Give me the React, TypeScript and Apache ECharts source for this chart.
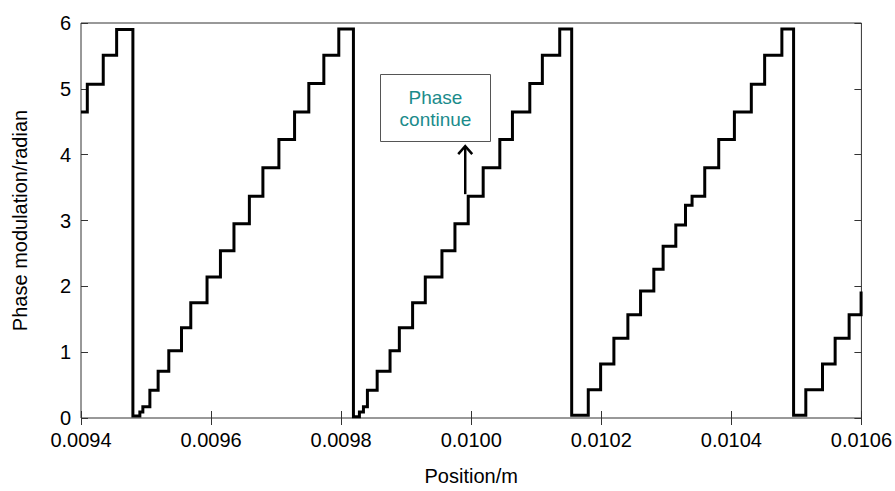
import React, { useEffect, useRef } from "react";
import * as echarts from "echarts";

// Step positions (m) and phase levels (radian)
const stepX = [
  0.0094, 0.0094097, 0.0094342, 0.0094548, 0.0094798, 0.0094905, 0.0094951, 0.0095059,
  0.0095186, 0.009535, 0.0095545, 0.0095688, 0.0095938, 0.0096144, 0.0096352, 0.0096589,
  0.0096797, 0.0097043, 0.0097284, 0.0097503, 0.0097734, 0.0097964, 0.0098189, 0.0098281,
  0.0098343, 0.0098404, 0.0098554, 0.0098752, 0.0098895, 0.0099099, 0.0099294, 0.009955,
  0.009975, 0.0099954, 0.0100184, 0.010044, 0.0100634, 0.0100901, 0.0101094, 0.0101361,
  0.0101545, 0.01018, 0.010199, 0.0102194, 0.0102409, 0.0102604, 0.0102808, 0.0102951,
  0.0103146, 0.0103295, 0.0103396, 0.0103591, 0.0103806, 0.0104047, 0.0104307, 0.0104512,
  0.0104777, 0.0104957, 0.0105145, 0.0105402, 0.0105596, 0.0105811, 0.0105995,
];
const stepY = [
  4.65, 5.07, 5.51, 5.9, 0.03, 0.09, 0.17, 0.42, 0.71, 1.02, 1.37, 1.75, 2.14, 2.54, 2.95, 3.37,
  3.8, 4.23, 4.65, 5.08, 5.51, 5.91, 0.02, 0.09, 0.17, 0.42, 0.71, 1.02, 1.37, 1.75, 2.14, 2.54,
  2.95, 3.37, 3.8, 4.23, 4.65, 5.08, 5.51, 5.91, 0.04, 0.43, 0.82, 1.21, 1.57, 1.93, 2.26, 2.61,
  2.93, 3.23, 3.37, 3.8, 4.23, 4.65, 5.07, 5.51, 5.91, 0.04, 0.43, 0.82, 1.21, 1.57, 1.92,
];
const xRange = [0.0094, 0.0106];
const yRange = [0, 6];
const xTickInterval = 0.0002;
const yTickInterval = 1;

// Annotation (data coordinates)
const annotationText = "Phase\ncontinue";
const annotationBox = { x0: 0.0098594, x1: 0.0100291, y0: 5.224, y1: 4.213 };
const arrow = { x: 0.0099908, yFrom: 3.4, yTo: 4.13 };

const FONT = "'Liberation Sans', Arial, sans-serif";

export default function App() {
  const ref = useRef<HTMLDivElement>(null);

  useEffect(() => {
    if (!ref.current) return;
    const chart = echarts.init(ref.current, undefined, { renderer: "svg" });
    const pts: number[][] = stepX.map((x, i) => [x, stepY[i]]);
    pts.push([xRange[1], stepY[stepY.length - 1]]);

    const tickStyle = { show: true, inside: true, length: 7, lineStyle: { color: "#333", width: 1 } };
    chart.setOption({
      animation: false,
      backgroundColor: "#fff",
      grid: {
        left: 81,
        right: 32,
        top: 23,
        bottom: 66,
        show: true,
        borderColor: "#333",
        borderWidth: 1,
        backgroundColor: "transparent",
      },
      xAxis: [
        {
          type: "value",
          min: xRange[0],
          max: xRange[1],
          interval: xTickInterval,
          name: "Position/m",
          nameLocation: "middle",
          nameGap: 48,
          nameTextStyle: { fontFamily: FONT, fontSize: 20, color: "#000" },
          axisLine: { show: false },
          axisTick: tickStyle,
          splitLine: { show: false },
          axisLabel: {
            fontFamily: FONT,
            fontSize: 20,
            color: "#000",
            margin: 12,
            formatter: (v: number) => v.toFixed(4),
          },
        },
        {
          type: "value",
          position: "top",
          min: xRange[0],
          max: xRange[1],
          interval: xTickInterval,
          axisLine: { show: false },
          axisTick: tickStyle,
          splitLine: { show: false },
          axisLabel: { show: false },
        },
      ],
      yAxis: [
        {
          type: "value",
          min: yRange[0],
          max: yRange[1],
          interval: yTickInterval,
          name: "Phase modulation/radian",
          nameLocation: "middle",
          nameGap: 51,
          nameTextStyle: { fontFamily: FONT, fontSize: 20, color: "#000" },
          axisLine: { show: false },
          axisTick: tickStyle,
          splitLine: { show: false },
          axisLabel: { fontFamily: FONT, fontSize: 20, color: "#000", margin: 10 },
        },
        {
          type: "value",
          position: "right",
          min: yRange[0],
          max: yRange[1],
          interval: yTickInterval,
          axisLine: { show: false },
          axisTick: tickStyle,
          splitLine: { show: false },
          axisLabel: { show: false },
        },
      ],
      series: [
        {
          type: "line",
          xAxisIndex: 0,
          yAxisIndex: 0,
          data: pts,
          step: "end",
          showSymbol: false,
          symbol: "none",
          lineStyle: { color: "#000", width: 3, join: "miter" },
        },
      ],
    });

    const conv = (x: number, y: number) =>
      chart.convertToPixel({ xAxisIndex: 0, yAxisIndex: 0 }, [x, y]) as number[];
    const b0 = conv(annotationBox.x0, annotationBox.y0);
    const b1 = conv(annotationBox.x1, annotationBox.y1);
    const a0 = conv(arrow.x, arrow.yFrom);
    const a1 = conv(arrow.x, arrow.yTo);
    const bx = Math.round(b0[0]) + 0.5;
    const by = Math.round(b0[1]) + 0.5;
    const bw = Math.round(b1[0] - b0[0]);
    const bh = Math.round(b1[1] - b0[1]);

    chart.setOption({
      graphic: [
        {
          type: "rect",
          shape: { x: bx, y: by, width: bw, height: bh },
          style: { fill: "#fff", stroke: "#555", lineWidth: 1 },
          z: 10,
        },
        {
          type: "text",
          x: bx + bw / 2,
          y: by + bh / 2,
          style: {
            text: annotationText,
            fontFamily: FONT,
            fontSize: 19,
            lineHeight: 22,
            fill: "#1b8b8b",
            align: "center",
            verticalAlign: "middle",
          },
          z: 11,
        },
        {
          type: "line",
          shape: { x1: a0[0], y1: a0[1], x2: a1[0], y2: a1[1] + 1 },
          style: { stroke: "#000", lineWidth: 2.5 },
          z: 11,
        },
        {
          type: "polyline",
          shape: {
            points: [
              [a1[0] - 7, a1[1] + 8],
              [a1[0], a1[1]],
              [a1[0] + 7, a1[1] + 8],
            ],
          },
          style: { stroke: "#000", lineWidth: 2.5, fill: "none" },
          z: 11,
        },
      ],
    });

    return () => chart.dispose();
  }, []);

  return <div ref={ref} style={{ width: 895, height: 491, position: "absolute", left: 0, top: 0 }} />;
}
